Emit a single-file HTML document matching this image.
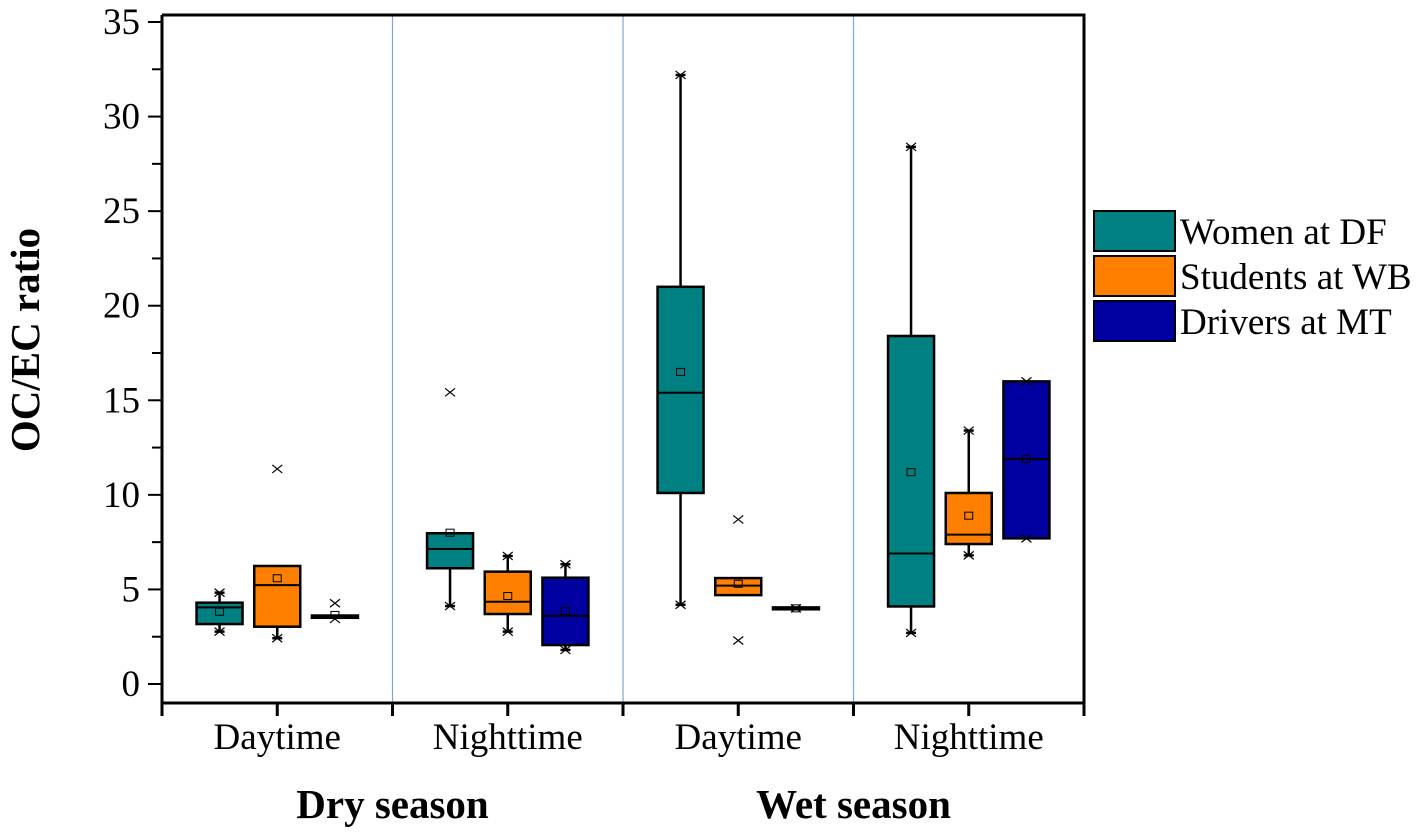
<!DOCTYPE html>
<html><head><meta charset="utf-8"><style>
html,body{margin:0;padding:0;background:#fff;}
svg{display:block;font-family:"Liberation Serif",serif;}
</style></head><body>
<svg id="chart" width="1416" height="840" viewBox="0 0 1416 840"></svg>
<script>
const categories = ["Dry Daytime","Dry Nighttime","Wet Daytime","Wet Nighttime"];
const seriesNames = ["Women at DF","Students at WB","Drivers at MT"];
const seriesColors = ["#008080","#FF8000","#0000A0"];
// [whiskerLow, q1, median, q3, whiskerHigh, mean]
const womenStats = [[2.77,3.17,4.05,4.3,4.83,3.82],[4.12,6.12,7.14,7.97,7.97,8.0],[4.19,10.1,15.4,21.0,32.2,16.5],[2.7,4.1,6.9,18.4,28.4,11.2]];
const studentsStats = [[2.42,3.03,5.23,6.24,6.24,5.59],[2.77,3.7,4.35,5.94,6.77,4.65],[4.7,4.7,5.2,5.6,5.6,5.3],[6.8,7.4,7.9,10.1,13.4,8.9]];
const driversStats = [[3.5,3.5,3.56,3.62,3.62,3.65],[1.8,2.06,3.61,5.62,6.33,3.86],[3.95,3.95,4.0,4.05,4.05,4.0],[7.7,7.7,11.9,16.0,16.0,11.9]];
const womenOutliers = [[],[15.42],[],[]];
const studentsOutliers = [[11.37],[],[8.7,2.3],[]];
const driversOutliers = [[4.27,3.44],[],[4.0],[7.7,16.0]];
const yTicks = [0,5,10,15,20,25,30,35];
const xLabels = ["Daytime","Nighttime","Daytime","Nighttime"];
const seasonLabels = ["Dry season","Wet season"];

const NS="http://www.w3.org/2000/svg";
const svg=document.getElementById('chart');
const L=162,R=1084,T=15,B=703;
const y0=684,yUnit=(684-22)/35;
const yS=v=>y0-v*yUnit;
const groupW=(R-L)/4;
const xS=(g,s)=>L+groupW*g+groupW/2+(s-1)*57.7;
function mk(tag,attrs,text){const e=document.createElementNS(NS,tag);for(const k in attrs)e.setAttribute(k,attrs[k]);if(text!==undefined)e.textContent=text;svg.appendChild(e);return e;}

for(let i=1;i<4;i++){const l=mk('line',{x1:L+groupW*i,x2:L+groupW*i,y1:T,y2:B,stroke:'#7BA7D0','stroke-width':1.2});

}

for(let v=0;v<=35;v+=2.5){const maj=v%5===0;const t=mk('line',{x1:maj?148:152,x2:L,y1:yS(v),y2:yS(v),stroke:'#000','stroke-width':2});

}
yTicks.forEach(v=>{const t=mk('text',{x:140,y:yS(v)+12,'text-anchor':'end','font-size':37},String(v));

});

for(let i=0;i<=8;i++){const x=L+groupW/2*i;const t=mk('line',{x1:x,x2:x,y1:B,y2:716,stroke:'#000','stroke-width':3});

}
xLabels.forEach((s,i)=>{const t=mk('text',{x:L+groupW*i+groupW/2,y:749,'text-anchor':'middle','font-size':37},s);

});
seasonLabels.forEach((s,i)=>{const t=mk('text',{x:L+groupW*(2*i+1),y:818,'text-anchor':'middle','font-size':41,'font-weight':'bold'},s);

});
const yt=mk('text',{x:0,y:0,transform:'translate(39,340) rotate(-90)','text-anchor':'middle','font-size':41,'font-weight':'bold'},'OC/EC ratio');



function cross(x,y){mk('path',{d:`M${x-5} ${y-4}L${x+5} ${y+4}M${x-5} ${y+4}L${x+5} ${y-4}`,stroke:'#000','stroke-width':1.2,fill:'none'});}
const allStats=[womenStats,studentsStats,driversStats];
const allOut=[womenOutliers,studentsOutliers,driversOutliers];
const bw=46;
allStats.forEach((stats,s)=>{
  stats.forEach((st,g)=>{
    const [lo,q1,med,q3,hi,mean]=st;const x=xS(g,s);
    const w=mk('line',{x1:x,x2:x,y1:yS(hi),y2:yS(lo),stroke:'#000','stroke-width':2.5});
    
    
    const h=Math.max(yS(q1)-yS(q3),1);
    const b=mk('rect',{x:x-bw/2,y:yS(q3),width:bw,height:h,fill:seriesColors[s],stroke:'#000','stroke-width':2.5});
    
    
    mk('line',{x1:x-bw/2,x2:x+bw/2,y1:yS(med),y2:yS(med),stroke:'#000','stroke-width':2});
    if(hi>q3){mk('line',{x1:x-5,x2:x+5,y1:yS(hi),y2:yS(hi),stroke:'#000','stroke-width':2.5});cross(x,yS(hi));}
    if(lo<q1){mk('line',{x1:x-5,x2:x+5,y1:yS(lo),y2:yS(lo),stroke:'#000','stroke-width':2.5});cross(x,yS(lo));}
    const m=mk('rect',{x:x-4,y:yS(mean)-3.5,width:8,height:7,fill:'none',stroke:'#000','stroke-width':1});
    
    
    allOut[s][g].forEach(v=>cross(x,yS(v)));
  });
});

const f=mk('path',{d:`M${L} ${T}V${B}H${R}V${T}H${L}`,fill:'none',stroke:'#000','stroke-width':3});



seriesNames.forEach((n,i)=>{
  const r=mk('rect',{x:1094,y:211+45*i,width:81,height:40,fill:seriesColors[i],stroke:'#000','stroke-width':2});
  
  
  const t=mk('text',{x:1180,y:244+45*i,'font-size':37},n);
  
  
});
</script>
</body></html>
